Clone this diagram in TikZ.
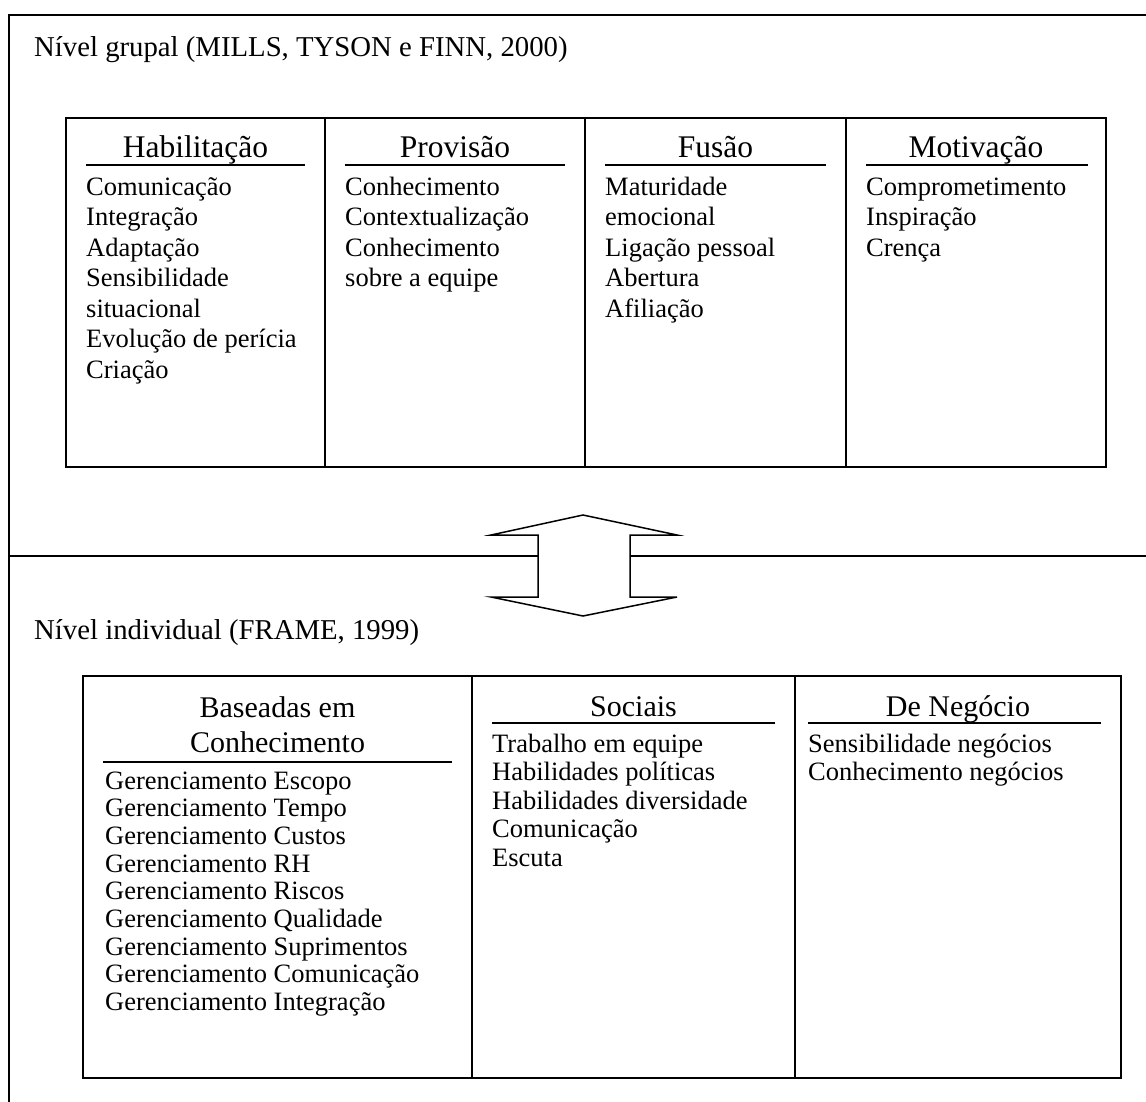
\documentclass[tikz,border=0pt]{standalone}
\usepackage{fontspec}
\setmainfont{Liberation Serif}
\tikzset{
  frameline/.style={line width=1.5pt},
  boxline/.style={line width=1.8pt},
  uline/.style={line width=2pt},
  arrowshape/.style={line width=1.5pt, fill=white, line join=miter},
  ttl/.style={anchor=base west, inner sep=0pt, font=\fontsize{28.75}{32}\selectfont},
  hdr/.style={anchor=base, inner sep=0pt, font=\fontsize{31.5}{35}\selectfont},
  hdrlow/.style={anchor=base, inner sep=0pt, font=\fontsize{30}{34}\selectfont},
  itm/.style={anchor=base west, inner sep=0pt, font=\fontsize{26.5}{29}\selectfont},
}
\begin{document}
\begin{tikzpicture}[x=1pt,y=-1pt]
\useasboundingbox (0,0) rectangle (1146,1101);
% outer frame (right and bottom cut off)
\draw[frameline] (1150,15) -- (9,15) -- (9,1110);
% separator line with the double arrow
\coordinate (sepL) at (9,556);
\coordinate (sepR) at (1150,556);
\coordinate (arrL) at (538,556);
\coordinate (arrR) at (630,556);
\draw[frameline] (sepL) -- (arrL);
\draw[frameline] (arrR) -- (sepR);
\draw[arrowshape] (583,515) -- (677,535) -- (630,535) -- (630,597) -- (677,597) -- (583,616)
  -- (491,597) -- (538,597) -- (538,535) -- (491,535) -- cycle;
% titles
\node[ttl] (t1) at (34,56) {Nível grupal (MILLS, TYSON e FINN, 2000)};
\node[ttl] (t2) at (34,639) {Nível individual (FRAME, 1999)};
% ---------- upper table ----------
\draw[boxline] (66,118) rectangle (1106,467);
\foreach \xx in {325,585,846} \draw[boxline] (\xx,118) -- (\xx,467);
\node[hdr] (h1) at (195.5,157) {Habilitação};
\node[hdr] (h2) at (455,157) {Provisão};
\node[hdr] (h3) at (715.5,157) {Fusão};
\node[hdr] (h4) at (976,157) {Motivação};
\draw[uline] (86,165) -- (305,165);
\draw[uline] (345,165) -- (565,165);
\draw[uline] (605,165) -- (826,165);
\draw[uline] (866,165) -- (1088,165);
\foreach \t [count=\i] in {Comunicação,Integração,Adaptação,Sensibilidade,situacional,Evolução de perícia,Criação}
  \node[itm] (a\i) at (86,{195+(\i-1)*30.5}) {\t};
\foreach \t [count=\i] in {Conhecimento,Contextualização,Conhecimento,sobre a equipe}
  \node[itm] (b\i) at (345,{195+(\i-1)*30.5}) {\t};
\foreach \t [count=\i] in {Maturidade,emocional,Ligação pessoal,Abertura,Afiliação}
  \node[itm] (c\i) at (605,{195+(\i-1)*30.5}) {\t};
\foreach \t [count=\i] in {Comprometimento,Inspiração,Crença}
  \node[itm] (d\i) at (866,{195+(\i-1)*30.5}) {\t};
% ---------- lower table ----------
\draw[boxline] (83,676) rectangle (1121,1078);
\foreach \xx in {472,795} \draw[boxline] (\xx,676) -- (\xx,1078);
\node[hdrlow] (k1a) at (277.5,717) {Baseadas em};
\node[hdrlow] (k1b) at (277.5,752) {Conhecimento};
\node[hdrlow] (k2) at (633.5,716) {Sociais};
\node[hdrlow] (k3) at (958,716) {De Negócio};
\draw[uline] (103,762) -- (452,762);
\draw[uline] (492,723) -- (775,723);
\draw[uline] (808,723) -- (1101,723);
\foreach \t [count=\i] in {Gerenciamento Escopo,Gerenciamento Tempo,Gerenciamento Custos,Gerenciamento RH,Gerenciamento Riscos,Gerenciamento Qualidade,Gerenciamento Suprimentos,Gerenciamento Comunicação,Gerenciamento Integração}
  \node[itm] (e\i) at (105,{789+(\i-1)*27.7}) {\t};
\foreach \t [count=\i] in {Trabalho em equipe,Habilidades políticas,Habilidades diversidade,Comunicação,Escuta}
  \node[itm] (f\i) at (492,{752+(\i-1)*28.5}) {\t};
\foreach \t [count=\i] in {Sensibilidade negócios,Conhecimento negócios}
  \node[itm] (g\i) at (808,{752+(\i-1)*28}) {\t};
\end{tikzpicture}
\end{document}
